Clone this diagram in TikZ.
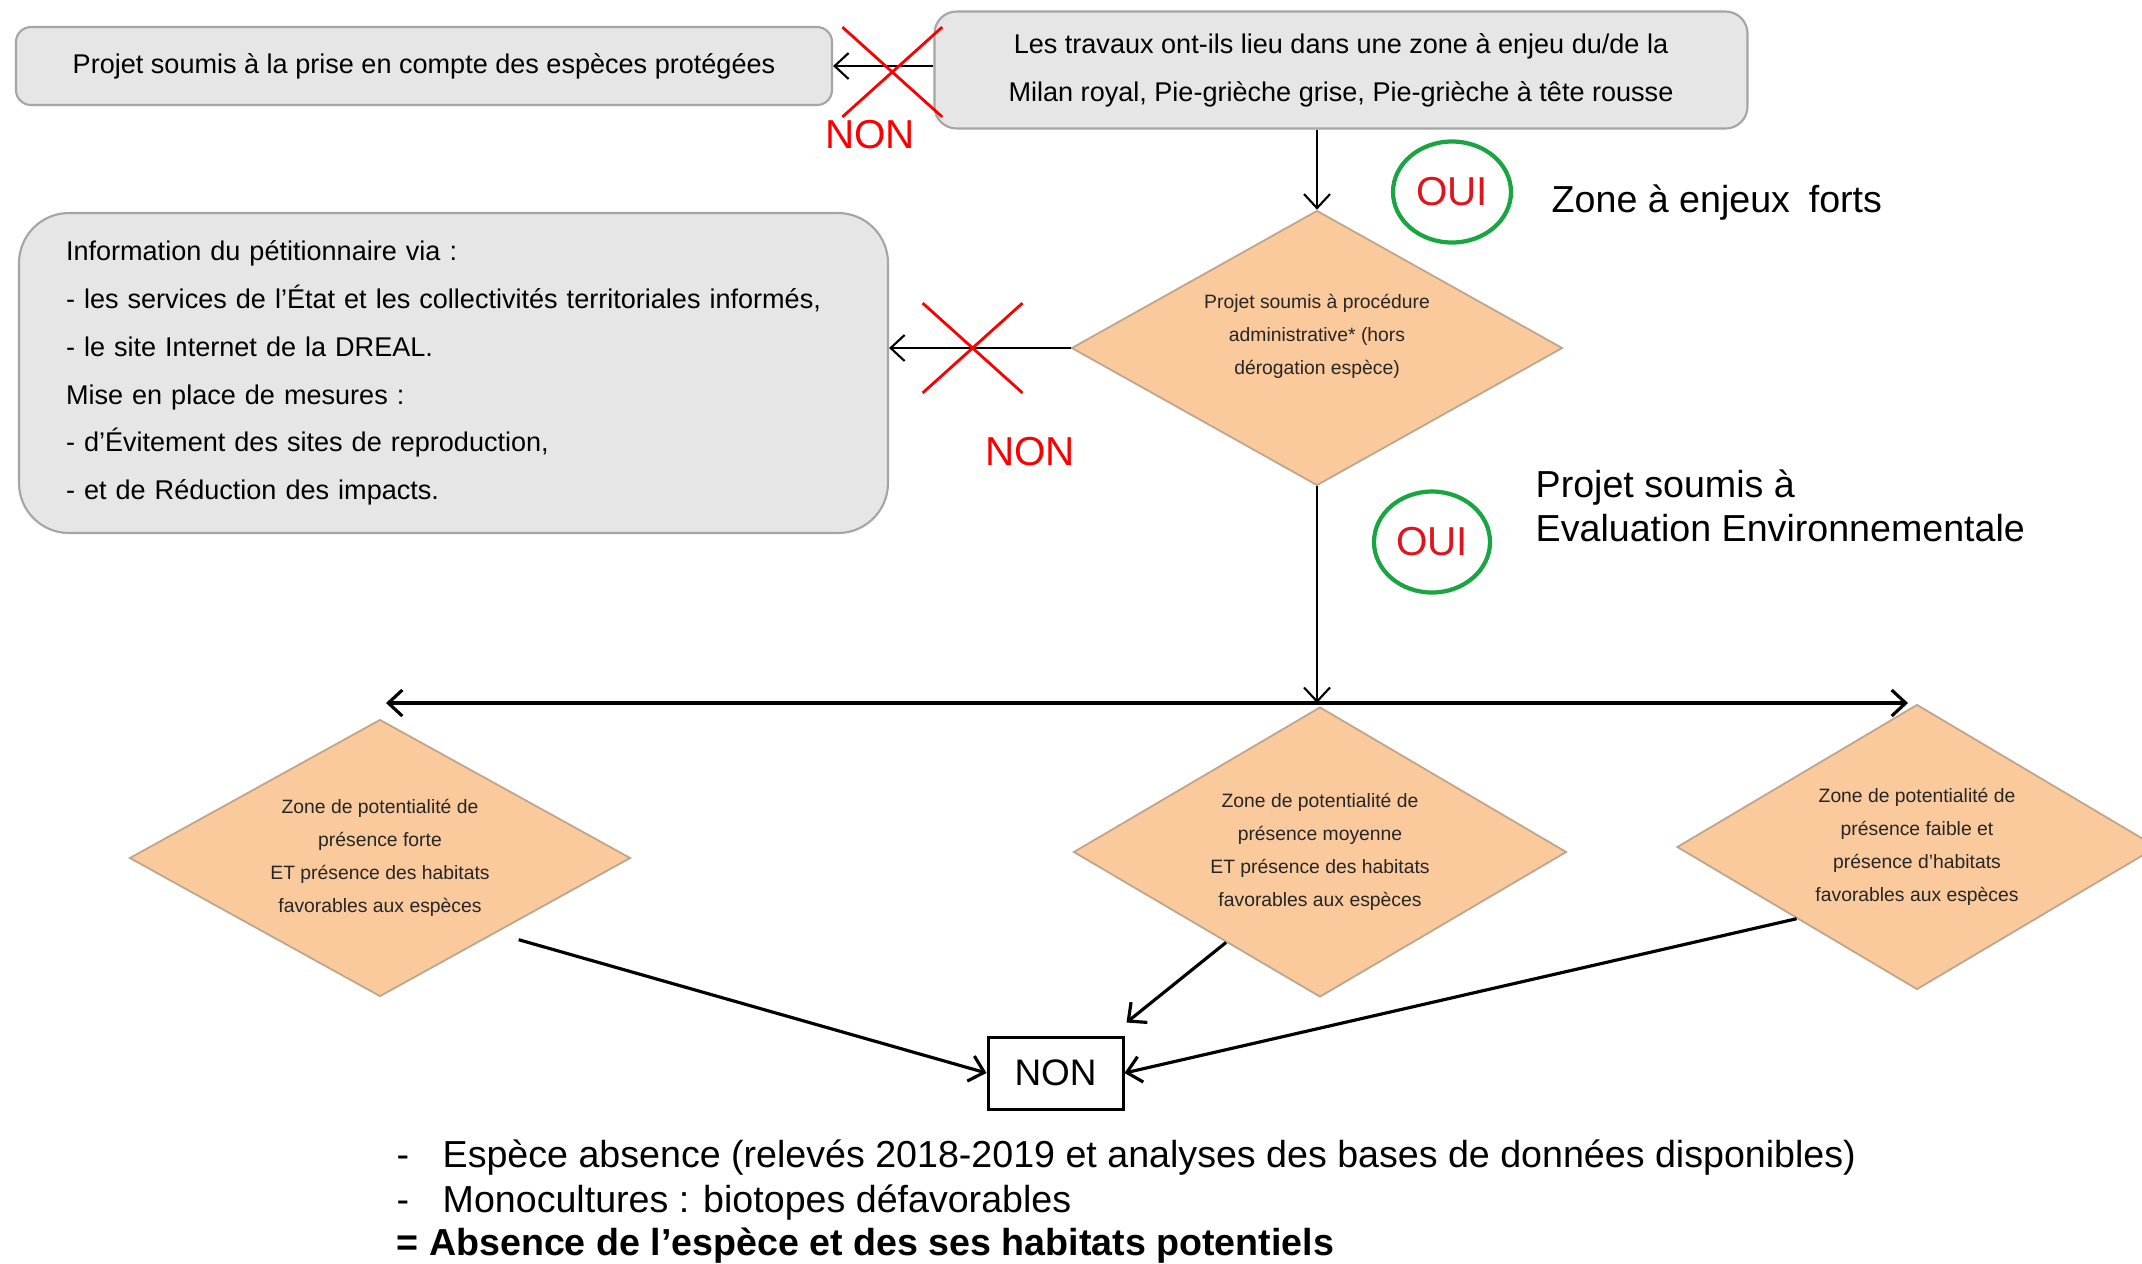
\documentclass[tikz,border=0pt]{standalone}
\usepackage{fontspec}
\setmainfont{Liberation Sans}
\usepackage{xcolor}
\usetikzlibrary{arrows.meta, calc, positioning, shapes.geometric, shapes.misc}

\definecolor{boxfill}{RGB}{230,230,230}
\definecolor{boxdraw}{RGB}{165,165,165}
\definecolor{peach}{RGB}{250,201,156}
\definecolor{peachdraw}{RGB}{190,165,140}
\definecolor{ouigreen}{RGB}{25,165,65}
\definecolor{ouired}{RGB}{225,20,30}
\definecolor{nonred}{RGB}{250,0,0}

\newcommand{\boxfont}{\fontsize{7.7}{13.6}\selectfont}
\newcommand{\diafont}{\fontsize{5.5}{9.4}\selectfont}
\newcommand{\labfont}{\fontsize{11.5}{13}\selectfont}
\newcommand{\notefont}{\fontsize{10.7}{12.5}\selectfont}

\tikzset{
  greybox/.style={draw=boxdraw, fill=boxfill, line width=0.6pt, rounded corners=#1,
    inner sep=0pt, font=\boxfont},
  greybox/.default=0.15cm,
  decision/.style={diamond, draw=peachdraw, fill=peach, line width=0.5pt, aspect=1.8,
    inner sep=0pt, align=center, font=\diafont, text=black!85},
  oui/.style={ellipse, draw=ouigreen, line width=1.2pt, text=ouired, font=\labfont,
    inner sep=0pt, minimum width=1.18cm, minimum height=1.01cm},
  nonlabel/.style={text=nonred, font=\labfont, inner sep=0pt},
  cutmark/.style={cross out, draw=nonred, line width=0.8pt, inner sep=0pt,
    minimum width=0.97cm, minimum height=0.87cm},
  thinarrow/.style={->, line width=0.6pt},
  thickline/.style={line width=0.9pt},
  note/.style={anchor=base west, inner sep=0pt, font=\notefont}
}

\begin{document}
\begin{tikzpicture}[>={Straight Barb[length=1.4mm,width=2.6mm]}]
\useasboundingbox (0,0) rectangle (21.42,-12.63);

% top row
\node[greybox, minimum width=8.16cm, minimum height=0.78cm] (proj) at (4.24,-0.66)
  {Projet soumis à la prise en compte des espèces protégées};
\node[greybox=0.22cm, minimum width=8.13cm, minimum height=1.17cm, align=center] (trav) at (13.41,-0.70)
  {Les travaux ont-ils lieu dans une zone à enjeu du/de la\\Milan royal, Pie-grièche grise, Pie-grièche à tête rousse};

% first question (text sits a little high in the diamond)
\node[decision, minimum width=4.91cm, minimum height=2.75cm, text depth=0.28cm] (adm) at (13.17,-3.48)
  {Projet soumis à procédure\\administrative* (hors\\dérogation espèce)};
\node[greybox=0.5cm, minimum width=8.69cm, minimum height=3.2cm, text width=7.75cm,
      inner xsep=0.47cm, align=left] (info) at (4.535,-3.73)
  {Information du pétitionnaire via :\\
   - les services de l’État et les collectivités territoriales informés,\\
   - le site Internet de la DREAL.\\
   Mise en place de mesures :\\
   - d’Évitement des sites de reproduction,\\
   - et de Réduction des impacts.};

\node[oui] (oui1) at (14.52,-1.92) {OUI};
\node[note] (enjeux) at (15.51,-2.12) {Zone à enjeux\hspace{0.5em}forts};
\node[oui, minimum width=1.16cm] (oui2) at (14.32,-5.42) {OUI};
\node[note, anchor=west, align=left] (evalenv) at (15.35,-5.06)
  {Projet soumis à\\Evaluation Environnementale};

\node[nonlabel] (non1) at (8.70,-1.35) {NON};
\node[nonlabel] (non2) at (10.30,-4.52) {NON};

% three zones
\coordinate (fork) at (13.17,-7.03);
\coordinate (forkL) at (3.86,-7.03);
\coordinate (forkR) at (19.08,-7.03);
\node[decision, minimum width=5.01cm, minimum height=2.77cm] (dL) at (3.80,-8.58)
  {Zone de potentialité de\\présence forte\\ET présence des habitats\\favorables aux espèces};
\node[decision, minimum width=4.93cm, minimum height=2.90cm] (dM) at (13.20,-8.52)
  {Zone de potentialité de\\présence moyenne\\ET présence des habitats\\favorables aux espèces};
\node[decision, minimum width=4.80cm, minimum height=2.85cm] (dR) at (19.17,-8.47)
  {Zone de potentialité de\\présence faible et\\présence d’habitats\\favorables aux espèces};

\node[draw, line width=0.85pt, minimum width=1.35cm, minimum height=0.72cm, inner sep=0pt,
      font=\fontsize{10.5}{12}\selectfont] (non) at (10.555,-10.73) {NON};
\coordinate (dLout) at ($(dL.south east)+(0.13,-0.12)$);
\coordinate (nonin) at ($(non.north east)+(0.02,0.13)$);

% conclusion
\node[note] (note1) at (3.96,-11.67)
  {\makebox[0.46cm][l]{-}Espèce absence (relevés 2018-2019 et analyses des bases de données disponibles)};
\node[note] (note2) at (3.96,-12.12) {\makebox[0.46cm][l]{-}Monocultures : biotopes défavorables};
\node[note, font=\notefont\bfseries] (note3) at (3.96,-12.55)
  {= Absence de l’espèce et des ses habitats potentiels};

% connectors
\draw[thinarrow] (trav.west |- proj.east) -- node[cutmark, pos=0.41, yshift=-0.06cm] (cut1) {} (proj.east);
\draw[thinarrow] (trav.south -| adm.north) -- (adm.north);
\draw[thinarrow] (adm.west) -- node[cutmark, pos=0.54] (cut2) {} (info.east |- adm.west);
\draw[thinarrow] (adm.south) -- (fork);
\draw[thickline, <->] (forkL) -- (forkR);
\draw[thickline, ->] (dLout) -- (non.west);
\draw[thickline, ->] ($(dM.west)!0.62!(dM.south)$) -- (nonin);
\draw[thickline, ->] (dR.south west) -- (non.east);
\end{tikzpicture}
\end{document}
